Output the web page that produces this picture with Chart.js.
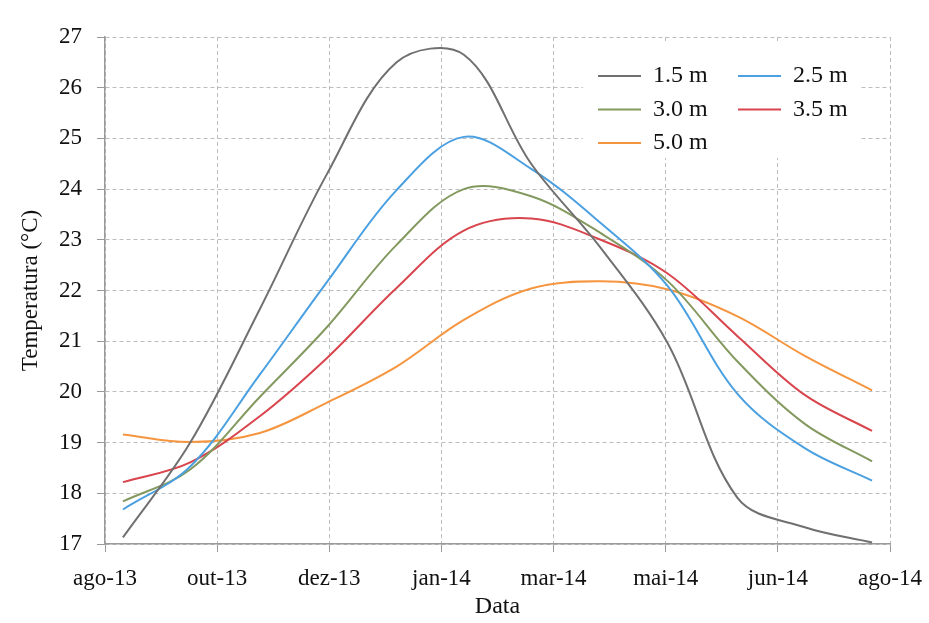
<!DOCTYPE html>
<html>
<head>
<meta charset="utf-8">
<script src="https://cdn.jsdelivr.net/npm/chart.js@4.4.1/dist/chart.umd.min.js"></script>
<style>
html,body{margin:0;padding:0;background:#fff;}
#c{display:block;}
</style>
</head>
<body>
<canvas id="c" width="929" height="623"></canvas>
<script>
// ---- data ----
const tickLabels = ['ago-13','out-13','dez-13','jan-14','mar-14','mai-14','jun-14','ago-14'];
// sampling dates, in days after 24 Aug 2013 (approx. first of each month, Sep-13 .. Aug-14)
const sampleDays = [8, 38, 69, 99, 130, 160, 190, 221, 251, 282, 312, 342];
const seriesNames = ['1.5 m', '2.5 m', '3.0 m', '3.5 m', '5.0 m'];
const temp15 = [17.13, 19.00, 21.63, 24.30, 26.50, 26.65, 24.50, 22.84, 20.95, 17.91, 17.33, 17.03];
const temp25 = [17.68, 18.53, 20.34, 22.17, 23.98, 25.03, 24.40, 23.33, 22.08, 19.96, 18.89, 18.25];
const temp30 = [17.84, 18.47, 19.90, 21.28, 22.90, 24.00, 23.86, 23.13, 22.18, 20.60, 19.37, 18.63];
const temp35 = [18.22, 18.61, 19.52, 20.67, 22.05, 23.18, 23.42, 23.00, 22.33, 21.10, 19.94, 19.23];
const temp50 = [19.16, 19.01, 19.19, 19.79, 20.50, 21.42, 22.04, 22.18, 22.02, 21.49, 20.71, 20.03];
const legendOrder = [0, 2, 4, 1, 3]; // column-major order giving rows: 1.5|2.5, 3.0|3.5, 5.0

// ---- styles ----
const colors = ['#707070', '#4aa0e0', '#83995f', '#d8454d', '#f6953f'];
const FONT = "'Liberation Serif', 'Times New Roman', serif";
const allSeries = [temp15, temp25, temp30, temp35, temp50];

const datasets = allSeries.map((vals, i) => ({
  label: seriesNames[i],
  data: vals.map((v, j) => ({x: sampleDays[j], y: v})),
  borderColor: colors[i],
  backgroundColor: colors[i],
  borderWidth: 2,
  pointRadius: 0,
  pointHoverRadius: 0,
  tension: 0.35,
  fill: false
}));

// legend box placement inside the plot area (top right)
const LEG = {left: 588.5, top: 54.5, width: 280, height: 120, colStep: 140, bgX: 583, bgY: 42, bgW: 277, bgH: 116};

const legendPlacer = {
  id: 'legendPlacer',
  beforeLayout(chart) {
    const lg = chart.legend;
    if (lg && !lg._patched) {
      lg._patched = true;
      lg._layers = function () {
        return [{
          z: 1,
          draw(area) {
            const c = chart.ctx;
            c.save();
            c.fillStyle = '#ffffff';
            c.fillRect(LEG.bgX, LEG.bgY, LEG.bgW, LEG.bgH);
            c.restore();
            lg.draw(area);
          }
        }];
      };
    }
  },
  afterLayout(chart) {
    const lg = chart.legend;
    if (!lg) return;
    lg.update(LEG.width, LEG.height, {left: 0, top: 0, right: 0, bottom: 0});
    lg.left = LEG.left; lg.top = LEG.top;
    lg.width = LEG.width; lg.height = LEG.height;
    lg.right = lg.left + lg.width; lg.bottom = lg.top + lg.height;
    const pad = lg.options.labels.padding;
    if (lg.columnSizes && lg.columnSizes[0]) lg.columnSizes[0].width = LEG.colStep - pad;
  }
};

const tickFont = {family: FONT, size: 23};
const chart = new Chart(document.getElementById('c'), {
  type: 'line',
  data: {datasets},
  plugins: [legendPlacer],
  options: {
    responsive: false,
    animation: false,
    devicePixelRatio: 1,
    layout: {padding: {left: 0, top: 37, right: 39, bottom: 0}},
    plugins: {
      legend: {
        position: 'chartArea',
        align: 'start',
        labels: {
          usePointStyle: true,
          pointStyle: 'line',
          pointStyleWidth: 43,
          padding: 9.5,
          color: '#111',
          font: {family: FONT, size: 24},
          sort: (a, b) => legendOrder.indexOf(a.datasetIndex) - legendOrder.indexOf(b.datasetIndex)
        }
      },
      tooltip: {enabled: false}
    },
    scales: {
      x: {
        type: 'linear',
        min: 0,
        max: 350,
        ticks: {
          stepSize: 50,
          autoSkip: false,
          maxRotation: 0,
          padding: 13,
          color: '#111',
          font: tickFont,
          callback: (v) => tickLabels[Math.round(v / 50)]
        },
        grid: {color: '#bdbdbd', lineWidth: 1, tickLength: 8, tickColor: '#9a9a9a'},
        border: {color: '#9a9a9a', width: 1.5, dash: [4, 3]},
        title: {display: true, text: 'Data', color: '#111', font: {family: FONT, size: 24}, padding: {top: 0, bottom: 2}},
        afterFit: (s) => { s.height = 79; s.paddingRight = 0; s.paddingLeft = 0; }
      },
      y: {
        min: 17,
        max: 27,
        ticks: {stepSize: 1, padding: 15, color: '#111', font: tickFont},
        grid: {color: '#bdbdbd', lineWidth: 1, tickLength: 8, tickColor: '#9a9a9a'},
        border: {color: '#9a9a9a', width: 1.5, dash: [4, 3]},
        title: {display: true, text: 'Temperatura (°C)', color: '#111', font: {family: FONT, size: 23}, padding: {top: 17, bottom: 0}},
        afterFit: (s) => { s.width = 105; }
      }
    }
  }
});
</script>
</body>
</html>
